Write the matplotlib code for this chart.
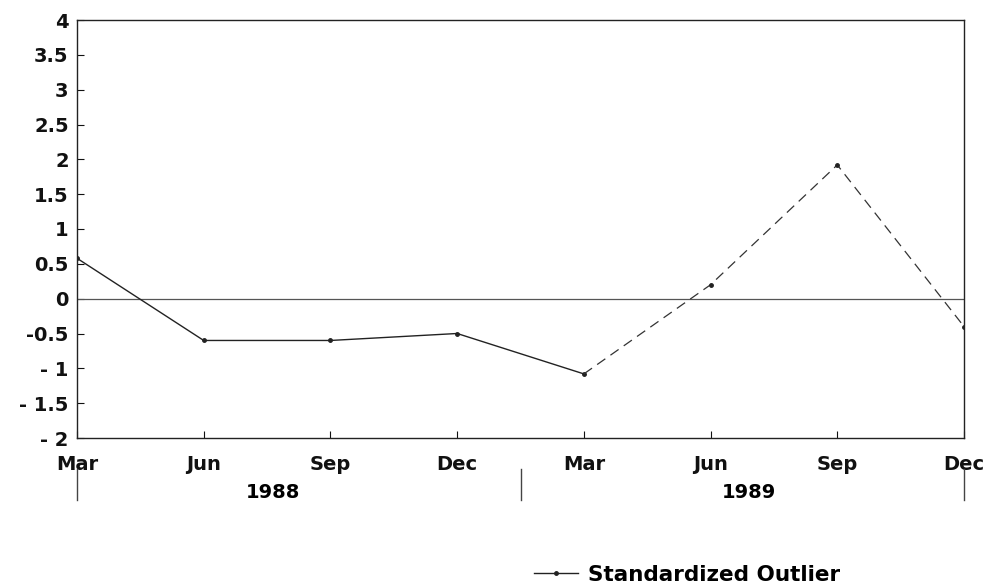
import matplotlib
matplotlib.use("Agg")
import matplotlib.pyplot as plt
from matplotlib.lines import Line2D
import matplotlib.transforms as mtransforms

months = ["Mar", "Jun", "Sep", "Dec", "Mar", "Jun", "Sep", "Dec"]
values = [0.58, -0.6, -0.6, -0.5, -1.08, 0.2, 1.92, -0.4]
years = ["1988", "1989"]
yticks = [4, 3.5, 3, 2.5, 2, 1.5, 1, 0.5, 0, -0.5, -1, -1.5, -2]
ytick_labels = ["4", "3.5", "3", "2.5", "2", "1.5", "1", "0.5", "0", "-0.5", "- 1", "- 1.5", "- 2"]
series_name = "Standardized Outlier"

plt.rcParams['font.family'] = ['DejaVu Sans']

fig = plt.figure(figsize=(9.92, 5.86), dpi=100)
ax = fig.add_axes([77/992, 1-438/586, (964-77)/992, (438-20)/586])

x = list(range(len(values)))
ax.plot(x[:5], values[:5], color="#222222", lw=1.0, marker="o", ms=2.5, zorder=3)
ax.plot(x[4:], values[4:], color="#333333", lw=0.9, ls=(0, (8, 5)), zorder=3)
ax.plot(x[5:], values[5:], ls="none", color="#222222", marker="o", ms=2.5, zorder=3)
ax.axhline(0, color="#555555", lw=0.9, zorder=2)

ax.set_xlim(0, len(values) - 1)
ax.set_ylim(-2, 4)
ax.set_yticks(yticks)
ax.set_yticklabels(ytick_labels)
ax.set_xticks(x)
ax.set_xticklabels(months)
ax.tick_params(axis="both", direction="in", length=5, width=0.8, labelsize=14, colors="#111111")
ax.tick_params(axis="y", pad=6)
ax.tick_params(axis="x", pad=12)
for lab in ax.get_xticklabels() + ax.get_yticklabels():
    lab.set_fontweight("bold")
for s in ax.spines.values():
    s.set_linewidth(1.0)
    s.set_color("#222222")

trans = mtransforms.blended_transform_factory(ax.transData, ax.transAxes)
ax.text(1.55, -0.13, years[0], transform=trans, ha="center", va="center", fontsize=14, fontweight="bold")
ax.text(5.3, -0.13, years[1], transform=trans, ha="center", va="center", fontsize=14, fontweight="bold")
for xs in [0, 3.5, 7]:
    ax.plot([xs, xs], [-0.075, -0.148], transform=trans, color="#444444", lw=1.0, clip_on=False)

handle = Line2D([], [], color="#222222", lw=1.0, marker="o", ms=2.5)
fig.legend([handle], [series_name], loc="center", bbox_to_anchor=(0.693, 1-575/586),
           frameon=False, prop={"size": 15.5, "weight": "bold"}, handlelength=2.0, handletextpad=0.5)

fig.savefig("out.png", dpi=100, facecolor="white")
